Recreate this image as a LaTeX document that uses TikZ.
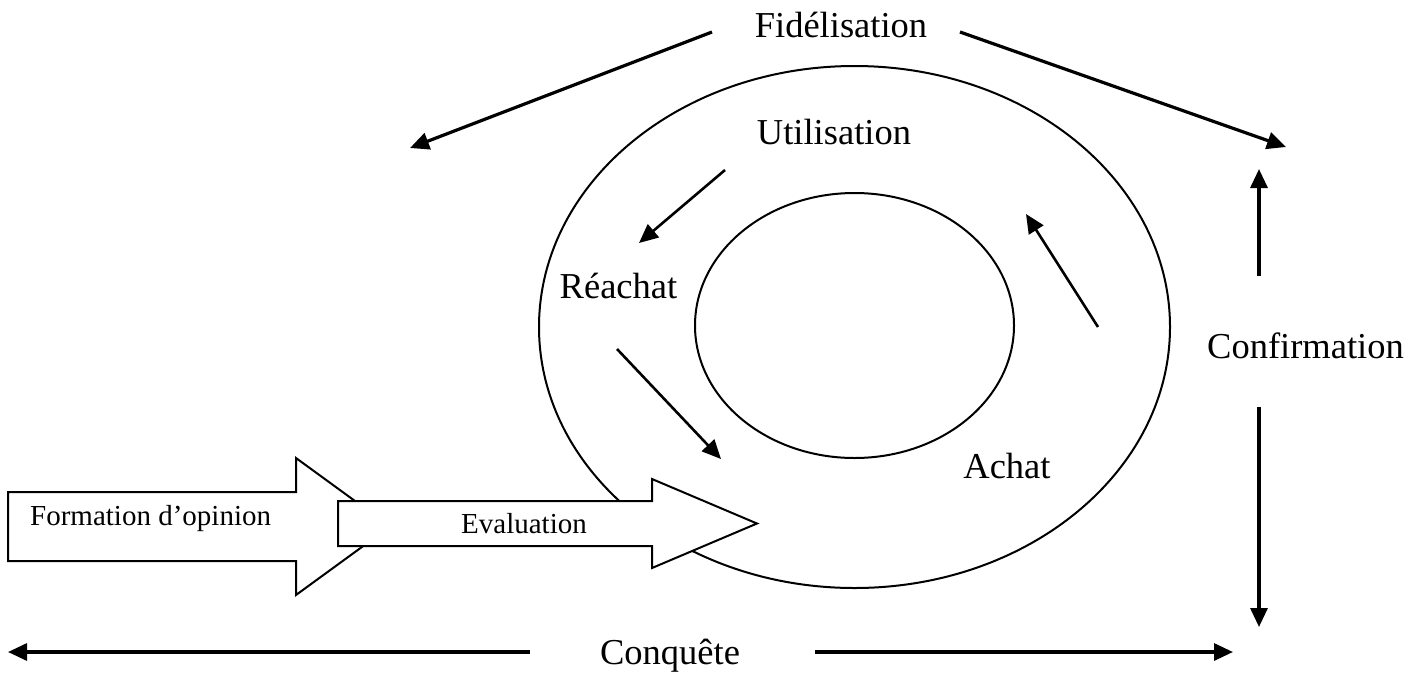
\documentclass[tikz,border=0pt]{standalone}
\usepackage{fontspec}
\setmainfont{Liberation Serif}
\usetikzlibrary{arrows.meta}
\begin{document}
\begin{tikzpicture}[x=1pt,y=-1pt,
  label/.style={inner sep=0pt,anchor=base,font=\fontsize{36.5}{40}\selectfont},
  small/.style={inner sep=0pt,anchor=base,font=\fontsize{29}{32}\selectfont},
  ring/.style={line width=2pt},
  blockarrow/.style={line width=2pt,fill=white,line join=miter},
  flow/.style={line width=3.2pt,-{Triangle[length=19pt,width=17pt]}},
  cycle/.style={line width=2.6pt,-{Triangle[length=19pt,width=17pt]}}]
\useasboundingbox (0,0) rectangle (1416,673);

% the two rings
\draw[ring] (854.5,327) ellipse [x radius=315.5, y radius=261];
\draw[ring] (854.5,325.5) ellipse [x radius=159.5, y radius=132.5];

% block arrows
\draw[blockarrow] (8,492) -- (296,492) -- (296,458) -- (390,526.5)
  -- (296,595) -- (296,561) -- (8,561) -- cycle;
\draw[blockarrow] (338,501) -- (652,501) -- (652,479) -- (757,523.5)
  -- (652,568) -- (652,546) -- (338,546) -- cycle;
\node[small,anchor=base west] (opinion) at (30,525) {Formation d’opinion};
\node[small] (evaluation) at (524,533) {Evaluation};

% labels
\node[label] (fid) at (841,37) {Fidélisation};
\node[label] (util) at (834,144) {Utilisation};
\node[label] (reachat) at (618.5,298) {Réachat};
\node[label] (achat) at (1007,478) {Achat};
\node[label] (confirm) at (1305.5,358) {Confirmation};
\node[label] (conquete) at (670,664) {Conquête};

% arrow end points
\coordinate (fidL0) at (712,32);   \coordinate (fidL1) at (410,148);
\coordinate (fidR0) at (960,32);   \coordinate (fidR1) at (1286,147);
\coordinate (confU0) at (1259,276); \coordinate (confU1) at (1259,169);
\coordinate (confD0) at (1259,407); \coordinate (confD1) at (1259,627);
\coordinate (conqL0) at (530,652); \coordinate (conqL1) at (8,652);
\coordinate (conqR0) at (815,652); \coordinate (conqR1) at (1233,652);
\coordinate (u0) at (725,170);  \coordinate (u1) at (639,243);
\coordinate (r0) at (617,349);  \coordinate (r1) at (721,459);
\coordinate (a0) at (1098,327); \coordinate (a1) at (1026,214);

\draw[flow] (fidL0) -- (fidL1);
\draw[flow] (fidR0) -- (fidR1);
\draw[flow] (confU0) -- (confU1);
\draw[flow] (confD0) -- (confD1);
\draw[flow] (conqL0) -- (conqL1);
\draw[flow] (conqR0) -- (conqR1);
\draw[cycle] (u0) -- (u1);
\draw[cycle] (r0) -- (r1);
\draw[cycle] (a0) -- (a1);
\end{tikzpicture}
\end{document}
